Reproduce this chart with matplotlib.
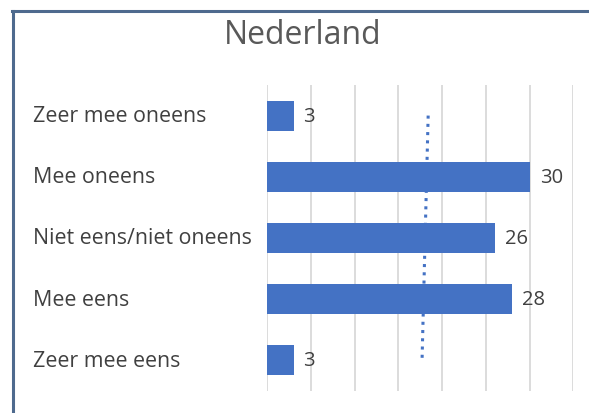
import matplotlib
matplotlib.use("Agg")
import matplotlib.pyplot as plt
from matplotlib.lines import Line2D
from matplotlib.transforms import blended_transform_factory

categories = ["Zeer mee oneens", "Mee oneens", "Niet eens/niet oneens", "Mee eens", "Zeer mee eens"]
values = [3, 30, 26, 28, 3]
title = "Nederland"
avg_line_x = [18.4, 17.7]   # dotted reference line (top, bottom)
avg_line_y = [0.0, 4.0]

plt.rcParams['font.family'] = ['Open Sans', 'DejaVu Sans']
W, H = 589, 414
fig = plt.figure(figsize=(W/100, H/100), dpi=100)
ax = fig.add_axes([267.3/W, 1-391.8/H, (573.3-267.3)/W, (391.8-86)/H])

bar_color = "#4472C4"
text_color = "#595959"
y = list(range(len(categories)))
ax.barh(y, values, height=0.49, color=bar_color, zorder=3)
ax.set_xlim(0, 35)
ax.set_ylim(len(categories)-0.5, -0.5)
ax.set_xticks(range(0, 36, 5))
ax.xaxis.grid(True, color="#d9d9d9", linewidth=1.3, zorder=0)
ax.tick_params(axis='both', length=0, labelbottom=False, labelleft=False)
for s in ax.spines.values():
    s.set_visible(False)

for yi, v in zip(y, values):
    ax.annotate(str(v), (v, yi), xytext=(10, 0), textcoords='offset pixels',
                ha='left', va='center', fontsize=14.5, color="#404040")

tr = blended_transform_factory(fig.transFigure, ax.transData)
for yi, c in zip(y, categories):
    ax.text(33/W, yi, c, transform=tr, ha='left', va='center', fontsize=15.4, color="#404040")

ax.plot(avg_line_x, avg_line_y,
        color=bar_color, linestyle=(0, (1, 1.7)), linewidth=2.2, zorder=2)

fig.text(303/W, 1-35/H, title, ha='center', va='center', fontsize=23, color=text_color)

# outer border (left and top)
fig.add_artist(Line2D([12.5/W, 12.5/W], [0, 1-11.5/H], transform=fig.transFigure, color="#4e6a8e", linewidth=2.2))
fig.add_artist(Line2D([11.5/W, 1], [1-11.5/H, 1-11.5/H], transform=fig.transFigure, color="#4e6a8e", linewidth=2.2))

fig.savefig("out.png", dpi=100)
